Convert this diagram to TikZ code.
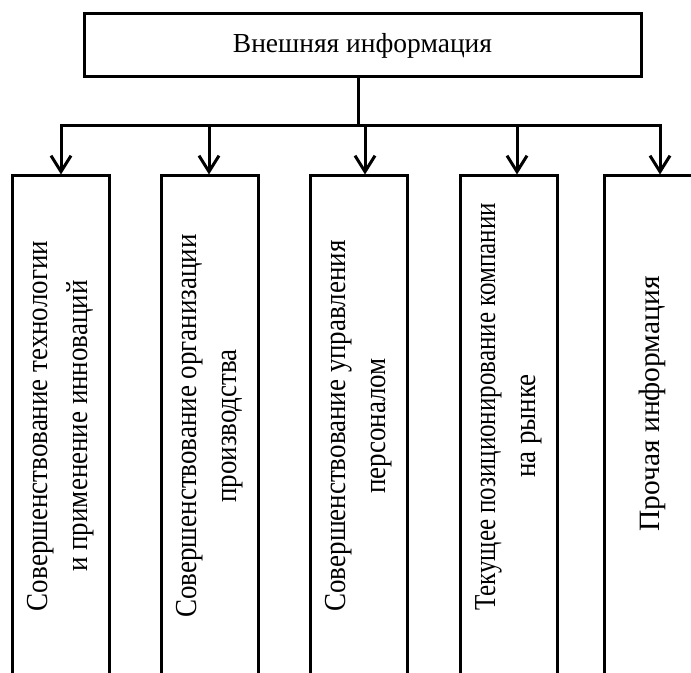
\documentclass[tikz,border=0pt]{standalone}
\usepackage{fontspec}
\setmainfont{Liberation Serif}
\newfontfamily\uzkiy{Liberation Serif}[FakeStretch=0.885]
\newfontfamily\ochenuzkiy{Liberation Serif}[FakeStretch=0.82]
\usetikzlibrary{positioning,arrows.meta}

\tikzset{
  glav/.style={draw,line width=3bp,minimum width=557bp,minimum height=63bp,inner sep=0pt},
  razdel/.style={draw,line width=3bp,rotate=90,minimum width=500bp,minimum height=97bp,inner sep=0pt,align=center,
    font=\uzkiy\fontsize{30.5bp}{40bp}\selectfont},
}

\begin{document}
\begin{tikzpicture}[>={Straight Barb[length=16bp,width=20bp]},line join=miter,line width=3bp,font=\fontsize{27.5bp}{40bp}\selectfont]
%%
\useasboundingbox (0bp,0bp) rectangle (691bp,673bp);
\clip (0bp,0bp) rectangle (691bp,673bp);
\node (vneshnyaya) at (362.5bp,627.5bp) [glav] {Внешняя информация};
  \node (tekhnologii) at (60.5bp,247bp) [razdel] {Совершенствование технологии\\и применение инноваций};
  \node (organizatsii) at (210bp,247bp) [razdel] {Совершенствование организации\\производства};
  \node (personal) at (358.5bp,247bp) [razdel] {Совершенствование управления\\персоналом};
  \node (rynok) at (508.5bp,247bp) [razdel] {\hspace*{38bp}{\ochenuzkiy Текущее позиционирование компании}\\на рынке};
  \node (prochaya) at (652.5bp,247bp) [razdel,font=\fontsize{29.5bp}{40bp}\selectfont] {\hspace*{44bp}Прочая информация};
  \coordinate (shina) at (358bp,547bp);
  \coordinate (s1) at (61bp,547bp);
  \coordinate (s2) at (209bp,547bp);
  \coordinate (s3) at (365bp,547bp);
  \coordinate (s4) at (517bp,547bp);
  \coordinate (s5) at (660bp,547bp);
  \draw [black] (vneshnyaya.south -| shina) -- (shina);
  \draw [black,<->] (s1 |- tekhnologii.east) -- (s1) -- (s5) -- (s5 |- prochaya.east);
  \draw [black,->] (s2) -- (s2 |- organizatsii.east);
  \draw [black,->] (s3) -- (s3 |- personal.east);
  \draw [black,->] (s4) -- (s4 |- rynok.east);
%
\end{tikzpicture}
\end{document}
